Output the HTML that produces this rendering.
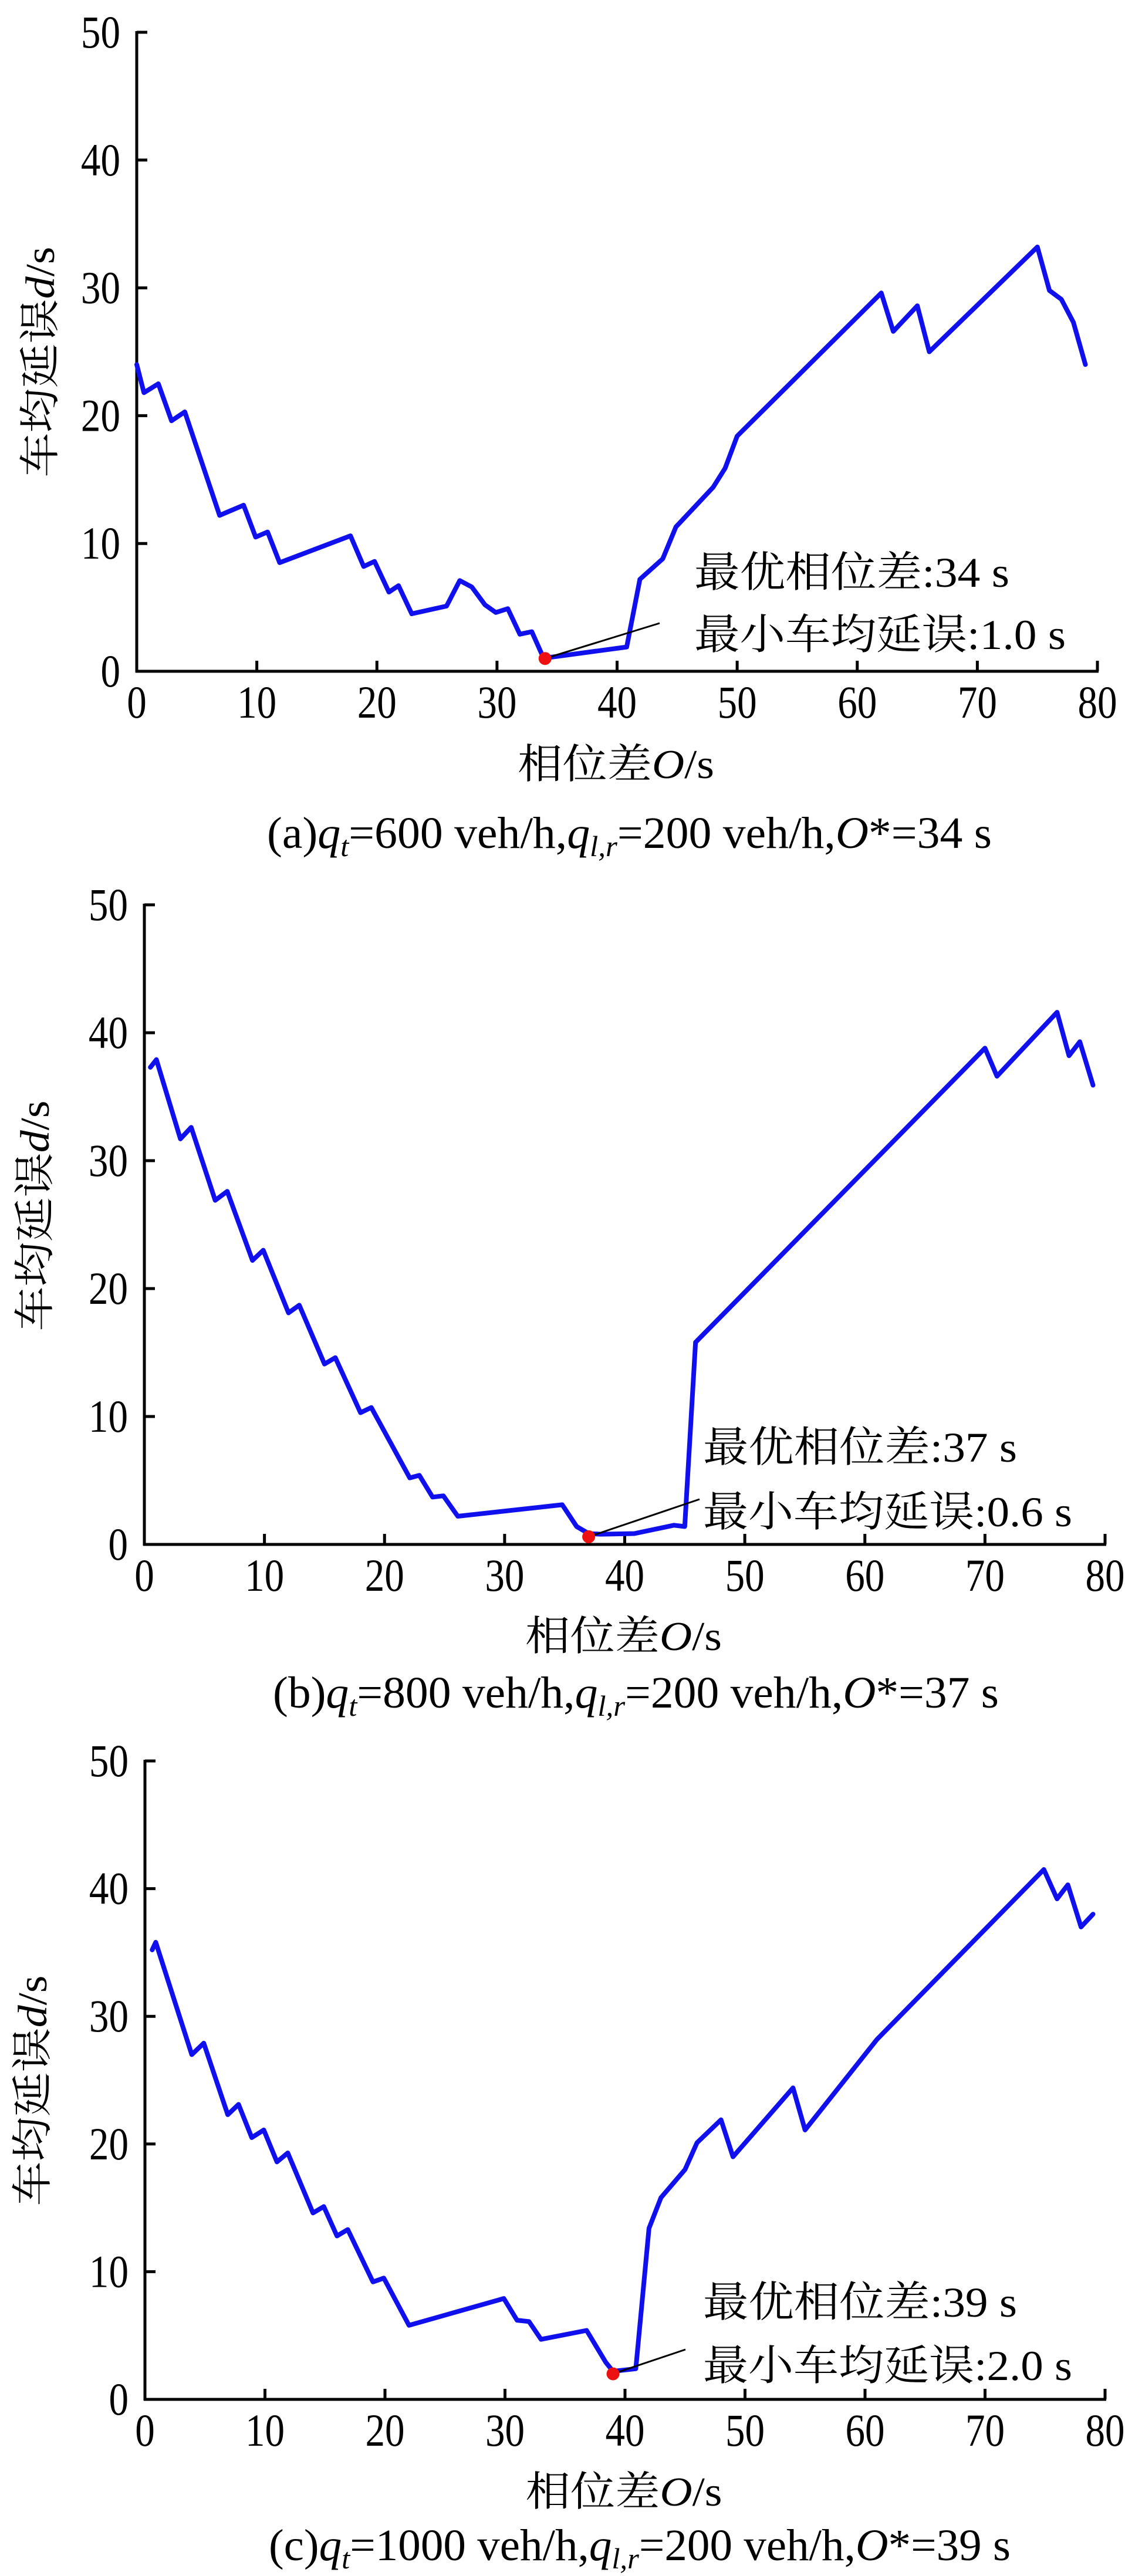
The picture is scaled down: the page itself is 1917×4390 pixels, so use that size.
<!DOCTYPE html>
<html><head><meta charset="utf-8">
<style>
html,body{margin:0;padding:0;background:#fff;}
svg{display:block;}
text{font-family:"Liberation Serif","Noto Serif CJK SC",serif;fill:#000;}
</style></head>
<body>
<svg id="fig" width="1917" height="4390" viewBox="0 0 1917 4390" xmlns="http://www.w3.org/2000/svg"></svg>
<script>
// ---- data ----
const xTicks = [0,10,20,30,40,50,60,70,80];
const yTicks = [0,10,20,30,40,50];

const aX = [0,0.6,1.8,2.9,4,6.9,8.9,9.9,10.9,11.9,17.8,18.9,19.8,21,21.8,22.9,25.8,26.9,27.9,29,29.9,30.9,31.9,32.9,33.8,34.5,40.8,41.9,43.8,44.9,48,49,50,62,63,65,66,75,76,77,78,79];
const aY = [24,21.8,22.5,19.6,20.3,12.2,13,10.5,10.9,8.5,10.6,8.2,8.6,6.2,6.7,4.5,5.1,7.1,6.6,5.2,4.6,4.9,2.9,3.1,1.2,1.1,1.9,7.2,8.8,11.3,14.4,15.9,18.4,29.6,26.6,28.6,25,33.2,29.8,29.1,27.3,24];

const bX = [0.5,1,3,3.9,5.9,6.9,9,9.9,12,12.9,15,15.9,18,18.9,22.1,22.9,24,24.9,26.1,34.8,36,37,38,40.8,44.1,45,45.9,70,71,76,77,77.9,79];
const bY = [37.3,37.9,31.7,32.6,26.9,27.6,22.2,23,18.1,18.7,14.1,14.6,10.3,10.7,5.2,5.4,3.7,3.8,2.2,3.1,1.4,0.85,0.8,0.85,1.5,1.4,15.8,38.8,36.6,41.6,38.2,39.3,35.9];

const cX = [0.6,0.9,3.9,4.9,6.9,7.8,8.9,9.9,11,11.9,14,14.9,16,16.9,19,19.9,22,29.9,31,32,33,36.8,38.4,39,40.9,42,43,45,46,48,49,54,55,61,74.9,76,76.9,78,79];
const cY = [35.2,35.8,27,27.9,22.3,23.1,20.5,21.1,18.6,19.3,14.6,15.1,12.8,13.3,9.2,9.5,5.8,7.9,6.2,6.1,4.7,5.4,2.9,2.2,2.4,13.4,15.8,18,20.1,21.9,19,24.4,21.1,28.2,41.5,39.2,40.3,37,38];

const optO = [34,37,39];
const minD = [1.0,0.6,2.0];
const flows = ["600","800","1000"];
const panelLetters = ["a","b","c"];

// ---- layout ----
const panels = [
  {x0:233,x1:1870,y0:1144,y1:55, ytx:68, yty:617, xtb:1326, capb:1445, capL:455, capR:1690, ax:1183, ay1:1000, ay2:1106, w1:537, w2:633, lx:1124, ly:1062},
  {x0:246,x1:1883,y0:2632,y1:1542, ytx:59, yty:2072, xtb:2812, capb:2910, capL:465, capR:1702, ax:1198, ay1:2491, ay2:2601, w1:535, w2:629, lx:1192, ly:2555},
  {x0:247,x1:1883,y0:4089,y1:3001, ytx:55, yty:3563, xtb:4270, capb:4363, capL:458, capR:1722, ax:1198, ay1:3948, ay2:4056, w1:535, w2:629, lx:1168, ly:4004}
];
const series = [[aX,aY],[bX,bY],[cX,cY]];
const NS = "http://www.w3.org/2000/svg";
const svg = document.getElementById('fig');
function mk(tag, attrs, parent){
  const e = document.createElementNS(NS, tag);
  for (const k in attrs) e.setAttribute(k, attrs[k]);
  (parent||svg).appendChild(e);
  return e;
}

panels.forEach((p, i) => {
  const g = mk('g', {});
  
  
  const sx = v => p.x0 + (p.x1 - p.x0) * v / 80;
  const sy = v => p.y0 + (p.y1 - p.y0) * v / 50;

  // axes
  const ya = mk('line', {x1:p.x0, y1:p.y1-2, x2:p.x0, y2:p.y0+2, stroke:'#000','stroke-width':5}, g);
  
  
  const xa = mk('line', {x1:p.x0-2, y1:p.y0, x2:p.x1+2, y2:p.y0, stroke:'#000','stroke-width':5}, g);
  
  

  yTicks.forEach(t => {
    const y = sy(t);
    if (t > 0) {
      const tk = mk('line', {x1:p.x0, y1:y, x2:p.x0+18, y2:y, stroke:'#000','stroke-width':5}, g);
      
      
    }
    const tl = mk('text', {transform:`translate(${p.x0-28},${y+26}) scale(0.86,1)`, 'text-anchor':'end','font-size':78}, g);
    tl.textContent = t;
    
    
  });
  xTicks.forEach(t => {
    const x = sx(t);
    if (t > 0) {
      const tk = mk('line', {x1:x, y1:p.y0, x2:x, y2:p.y0-18, stroke:'#000','stroke-width':5}, g);
      
      
    }
    const tl = mk('text', {transform:`translate(${x},${p.y0+79}) scale(0.86,1)`, 'text-anchor':'middle','font-size':78}, g);
    tl.textContent = t;
    
    
  });

  // series line
  const [xs, ys] = series[i];
  const d = xs.map((v, k) => (k ? 'L' : 'M') + sx(v).toFixed(1) + ',' + sy(ys[k]).toFixed(1)).join(' ');
  const pl = mk('path', {d, fill:'none', stroke:'#1010ee','stroke-width':8,'stroke-linejoin':'round','stroke-linecap':'round'}, g);
  
  

  // leader line + min point
  const px = sx(optO[i]), py = sy(minD[i]);
  const ll = mk('line', {x1:px, y1:py, x2:p.lx, y2:p.ly, stroke:'#000','stroke-width':3}, g);
  
  
  const dot = mk('circle', {cx:px, cy:py, r:11, fill:'#ee1111'}, g);
  
  

  // annotations
  const t1 = mk('text', {x:p.ax, y:p.ay1, 'font-size':72, textLength:p.w1, lengthAdjust:'spacingAndGlyphs'}, g);
  t1.textContent = '最优相位差:' + optO[i] + ' s';
  
  
  const t2 = mk('text', {x:p.ax, y:p.ay2, 'font-size':72, textLength:p.w2, lengthAdjust:'spacingAndGlyphs'}, g);
  t2.textContent = '最小车均延误:' + minD[i].toFixed(1) + ' s';
  
  

  // axis titles
  const xt = mk('text', {x:(p.x0+p.x1)/2 - 2, y:p.xtb, 'text-anchor':'middle','font-size':70, textLength:335, lengthAdjust:'spacingAndGlyphs'}, g);
  xt.innerHTML = '相位差<tspan font-style="italic">O</tspan>/s';
  
  
  const yt = mk('text', {transform:`translate(${p.ytx+24},${p.yty}) rotate(-90)`, 'text-anchor':'middle','font-size':70, textLength:393, lengthAdjust:'spacingAndGlyphs'}, g);
  yt.innerHTML = '车均延误<tspan font-style="italic">d</tspan>/s';
  
  

  // caption
  const cap = mk('text', {x:p.capL, y:p.capb, 'font-size':76, textLength:p.capR-p.capL, lengthAdjust:'spacingAndGlyphs'}, g);
  cap.innerHTML = '(' + panelLetters[i] + ')<tspan font-style="italic">q</tspan><tspan font-style="italic" font-size="50" dy="14">t</tspan><tspan dy="-14">=' + flows[i] +
    ' veh/h,</tspan><tspan font-style="italic">q</tspan><tspan font-style="italic" font-size="50" dy="14">l,r</tspan><tspan dy="-14">=200 veh/h,</tspan><tspan font-style="italic">O</tspan>*=' + optO[i] + ' s';
  
  
});
</script>
</body></html>
